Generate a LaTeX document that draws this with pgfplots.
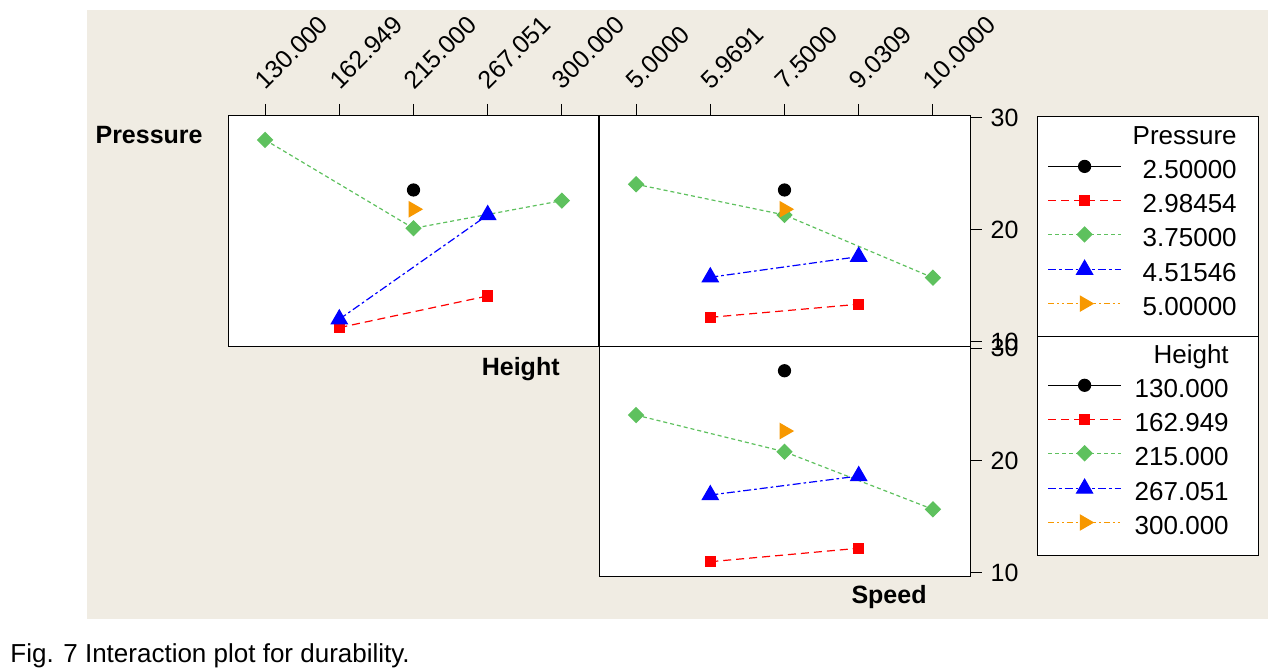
\documentclass[border=0pt]{standalone}
\usepackage{pgfplots}
\pgfplotsset{compat=1.18}
\usepackage{fontspec}
\setmainfont{Liberation Sans}
\definecolor{bgbeige}{RGB}{240,236,227}
\definecolor{cred}{RGB}{255,0,0}
\definecolor{cgreen}{RGB}{94,193,94}
\definecolor{cblue}{RGB}{0,0,255}
\definecolor{corange}{RGB}{247,152,0}

\pgfplotsset{
 panel/.style={scale only axis, width=185.5pt, clip=false,
   xmin=-0.5, xmax=4.5, axis line style={line width=0.5pt, black},
   tick style={line width=0.5pt, black}, major tick length=5.8pt,
   tick align=outside, font=\fontsize{12.5}{14}\selectfont,
   yticklabel style={xshift=1pt},
   /pgf/number format/assume math mode=true},
 toplabels/.style={xtick pos=upper, xticklabel pos=upper,
   xticklabel style={xshift=0.5pt, yshift=5pt, rotate=45, anchor=south west, inner sep=1pt}},
 sBlack/.style={black, solid, line width=0.6pt, mark=*, mark size=3pt, mark options={solid}},
 sRed/.style={cred, dash pattern=on 4pt off 2.5pt, line width=0.6pt, mark=square*, mark size=2.5pt, mark options={solid}},
 sGreen/.style={cgreen, dash pattern=on 2pt off 1.5pt, line width=0.6pt, mark=square*, mark size=2.6pt, mark options={solid, rotate=45}},
 sBlue/.style={cblue, dash pattern=on 4pt off 1.5pt on 1.3pt off 1.5pt, line width=0.6pt, mark=triangle*, mark size=4.6pt, mark options={solid}},
 sOrange/.style={corange, dash pattern=on 3pt off 1.5pt on 0.9pt off 1.5pt on 0.9pt off 1.5pt, line width=0.6pt, mark=triangle*, mark size=4.2pt, mark options={solid, rotate=-90}},
 mylegend/.style={legend cell align=right,
   legend style={anchor=north west, draw=black, line width=0.5pt, fill=white,
     inner xsep=0pt, inner ysep=#1, row sep=0pt, column sep=0pt,
     font=\fontsize{13}{15}\selectfont,
     nodes={inner sep=0pt, text height=10pt, text depth=7pt}},
   legend image code/.code={\path (0pt,0pt); \draw[mark repeat=2,mark phase=2,##1] plot coordinates {(5pt,4.5pt) (23.25pt,4.5pt) (41.5pt,4.5pt)};}},
}
\newcommand{\lbl}[2]{\makebox[68.5pt][r]{#1\hspace*{#2}}}

\begin{document}
\begin{tikzpicture}
\path[use as bounding box] (0pt,0pt) rectangle (638.5pt,-335pt);
\fill[white] (0pt,0pt) rectangle (638.5pt,-335pt);
\fill[bgbeige] (43.5pt,-5pt) rectangle (634pt,-309.5pt);
\node[anchor=base west, font=\fontsize{13}{15}\selectfont, inner sep=0pt] at (5pt,-331pt) {Fig. 7 Interaction plot for durability.};

% Panel 1: Pressure x Height
\begin{axis}[panel, toplabels, at={(114pt,-57.75pt)}, anchor=north west, height=115.25pt,
  ymin=9.64, ymax=30.22, ytick=\empty,
  xtick={0,1,2,3,4}, xticklabels={130.000,162.949,215.000,267.051,300.000},
  axis background/.style={fill=white}]
\addplot[sBlack] coordinates {(2,23.57)};
\addplot[sRed] coordinates {(1,11.28) (3,14.11)};
\addplot[sGreen] coordinates {(0,28.04) (2,20.15) (4,22.62)};
\addplot[sBlue] coordinates {(1,12.03) (3,21.34)};
\addplot[sOrange] coordinates {(2,21.85)};
\node[anchor=base east, font=\bfseries\fontsize{12.5}{15}\selectfont, inner sep=0pt] at (rel axis cs:-0.0674,0.8807) {Pressure};
\node[anchor=base east, font=\bfseries\fontsize{12.5}{15}\selectfont, inner sep=0pt] at (rel axis cs:0.8949,-0.1258) {Height};
\end{axis}

% Panel 2: Pressure x Speed
\begin{axis}[panel, toplabels, mylegend=4.2pt, at={(299.5pt,-57.75pt)}, anchor=north west, height=115.25pt,
  ymin=9.64, ymax=30.22, ytick={10,20,30},
  ytick pos=right, yticklabel pos=right,
  xtick={0,1,2,3,4}, xticklabels={5.0000,5.9691,7.5000,9.0309,10.0000},
  legend style={at={(1.1806,1)}},
  axis background/.style={fill=white}]
\addlegendimage{empty legend}\addlegendentry{\lbl{Pressure}{11pt}}
\addplot[sBlack] coordinates {(2,23.57)};\addlegendentry{\lbl{2.50000}{11pt}}
\addplot[sRed] coordinates {(1,12.20) (3,13.37)};\addlegendentry{\lbl{2.98454}{11pt}}
\addplot[sGreen] coordinates {(0,24.08) (2,21.34) (4,15.74)};\addlegendentry{\lbl{3.75000}{11pt}}
\addplot[sBlue] coordinates {(1,15.78) (3,17.62)};\addlegendentry{\lbl{4.51546}{11pt}}
\addplot[sOrange] coordinates {(2,21.85)};\addlegendentry{\lbl{5.00000}{11pt}}
\end{axis}

% Panel 3: Height x Speed
\begin{axis}[panel, mylegend=3.4pt, at={(299.5pt,-173pt)}, anchor=north west, height=115pt,
  ymin=9.73, ymax=30.18, ytick={10,20,30},
  ytick pos=right, yticklabel pos=right, xtick=\empty,
  legend style={at={(1.1806,1.0435)}},
  axis background/.style={fill=white}]
\addlegendimage{empty legend}\addlegendentry{\lbl{Height}{15pt}}
\addplot[sBlack] coordinates {(2,27.98)};\addlegendentry{\lbl{130.000}{15pt}}
\addplot[sRed] coordinates {(1,11.00) (3,12.20)};\addlegendentry{\lbl{162.949}{15pt}}
\addplot[sGreen] coordinates {(0,24.04) (2,20.78) (4,15.66)};\addlegendentry{\lbl{215.000}{15pt}}
\addplot[sBlue] coordinates {(1,16.93) (3,18.62)};\addlegendentry{\lbl{267.051}{15pt}}
\addplot[sOrange] coordinates {(2,22.62)};\addlegendentry{\lbl{300.000}{15pt}}
\node[anchor=base east, font=\bfseries\fontsize{12.5}{15}\selectfont, inner sep=0pt] at (rel axis cs:0.884,-0.1174) {Speed};
\end{axis}
\end{tikzpicture}
\end{document}
